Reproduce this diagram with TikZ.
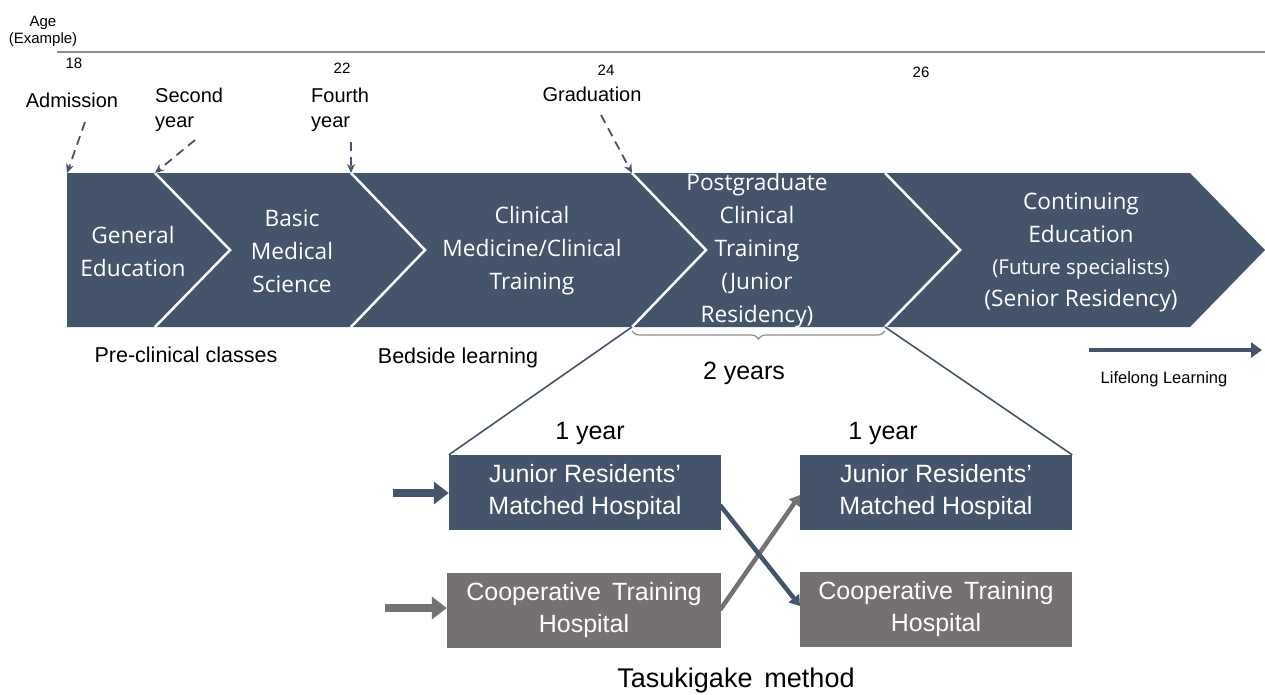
\documentclass[tikz,border=0pt]{standalone}
\usepackage{fontspec}
\setmainfont{Liberation Sans}
\newfontfamily\chev{Open Sans}
\usetikzlibrary{arrows.meta,decorations.pathreplacing}
\definecolor{navy}{HTML}{44546A}
\definecolor{stone}{HTML}{767171}
\definecolor{rule}{HTML}{8C8C8C}
\tikzset{
  seg/.style={fill=navy, draw=none},
  sep/.style={draw=white, line width=2.5pt},
  chevtext/.style={text=white, font=\chev\fontsize{22.7}{33}\selectfont, align=center},
  small/.style={font=\fontsize{15}{17}\selectfont, align=center},
  lbl/.style={font=\fontsize{20}{25}\selectfont, align=left, inner sep=0pt},
  biglbl/.style={font=\fontsize{21.5}{26}\selectfont, inner sep=0pt},
  dasharrow/.style={navy, dashed, dash pattern=on 9pt off 6pt, line width=1.8pt, -{Stealth[length=9pt,width=8pt]}},
  hbox/.style={minimum width=272pt, minimum height=75pt, inner sep=0pt, text=white, align=center, font=\fontsize{25}{32}\selectfont},
  fatarrow/.style={line width=8pt, -{Triangle[length=15pt,width=22pt]}},
  crossarrow/.style={line width=4.5pt, -{Triangle[length=10pt,width=13pt]}},
  zoomline/.style={navy, line width=1.6pt},
  yearlbl/.style={font=\fontsize{25}{28}\selectfont},
}
\begin{document}
\begin{tikzpicture}[x=1pt,y=-1pt]
\useasboundingbox (0,0) rectangle (1265,694);
% age axis
\node[small, font=\fontsize{15}{17}\selectfont] (age) at (43,31) {Age\\(Example)};
\coordinate (axL) at (57,52);
\coordinate (axR) at (1265,52);
\draw[rule, line width=2pt] (axL) -- (axR);
\node[small] (a18) at (74,63) {18};
\node[small] (a22) at (342,68) {22};
\node[small] (a24) at (606,70) {24};
\node[small] (a26) at (921,72) {26};
% chevron corner coordinates
\coordinate (t1) at (67,173);  \coordinate (b1) at (67,327);
\coordinate (t2) at (155,173); \coordinate (b2) at (155,327); \coordinate (p2) at (230,250);
\coordinate (t3) at (351,173); \coordinate (b3) at (351,327); \coordinate (p3) at (425,250);
\coordinate (t4) at (632,173); \coordinate (b4) at (632,327); \coordinate (p4) at (706,250);
\coordinate (t5) at (885,173); \coordinate (b5) at (885,327); \coordinate (p5) at (960,250);
\coordinate (t6) at (1190,173); \coordinate (b6) at (1190,327); \coordinate (p6) at (1265,250);
\fill[seg] (t1) -- (t2) -- (p2) -- (b2) -- (b1) -- cycle;
\fill[seg] (t2) -- (t3) -- (p3) -- (b3) -- (b2) -- (p2) -- cycle;
\fill[seg] (t3) -- (t4) -- (p4) -- (b4) -- (b3) -- (p3) -- cycle;
\fill[seg] (t4) -- (t5) -- (p5) -- (b5) -- (b4) -- (p4) -- cycle;
\fill[seg] (t5) -- (t6) -- (p6) -- (b6) -- (b5) -- (p5) -- cycle;
\draw[sep] (t2) -- (p2) -- (b2);
\draw[sep] (t3) -- (p3) -- (b3);
\draw[sep] (t4) -- (p4) -- (b4);
\draw[sep] (t5) -- (p5) -- (b5);
% chevron texts
\node[chevtext] (ge) at (133,251) {General\\Education};
\node[chevtext] (bms) at (292,251) {Basic\\Medical\\Science};
\node[chevtext] (cm) at (532,251) {Clinical\\Medicine/Clinical\\Training};
\node[chevtext] (pg) at (757,251) {Postgraduate\\Clinical\\Training\\(Junior\\Residency)};
\node[chevtext] (ce) at (1081,252) {Continuing\\Education\\[-1pt]{\fontsize{20.5}{24}\selectfont (Future specialists)}\\[-1pt](Senior Residency)};
% milestone labels
\node[lbl] (adm) at (72,100) {Admission};
\node[lbl, anchor=west] (sec) at (155,110) {Second\\year};
\node[lbl, anchor=west] (fou) at (311,110) {Fourth\\year};
\node[lbl] (grad) at (592,94) {Graduation};
\coordinate (admS) at (85,122);
\coordinate (secS) at (195,140);
\coordinate (fouS) at (351,142);
\coordinate (gradS) at (601,115);
\draw[dasharrow] (admS) -- (t1);
\draw[dasharrow] (secS) -- (t2);
\draw[dasharrow] (fouS) -- (t3);
\draw[dasharrow] (gradS) -- (t4);
% below band
\node[biglbl] (pre) at (186,355) {Pre-clinical classes};
\node[biglbl] (bed) at (458,358) {Bedside learning};
\coordinate (brL) at (632,331);
\coordinate (brR) at (885,331);
\draw[rule, line width=1.2pt, decorate, decoration={brace, amplitude=8pt, mirror}] (brL) -- (brR);
\node[yearlbl] (two) at (744,373) {2 years};
\coordinate (llL) at (1089,350);
\coordinate (llR) at (1262,350);
\draw[navy, line width=4.5pt, -{Triangle[length=11pt,width=15pt]}] (llL) -- (llR);
\node[font=\fontsize{16.5}{19}\selectfont] (ll) at (1164,379) {Lifelong Learning};
% hospital boxes
\node[hbox, fill=navy] (ljr) at (585,492.5) {Junior Residents’\\Matched Hospital};
\node[hbox, fill=stone, minimum width=274pt] (lct) at (584,610.5) {Cooperative\, Training\\Hospital};
\node[hbox, fill=navy] (rjr) at (936,492.5) {Junior Residents’\\Matched Hospital};
\node[hbox, fill=stone] (rct) at (936,609.5) {Cooperative\, Training\\Hospital};
\node[yearlbl] (y1l) at (590,433) {1 year};
\node[yearlbl] (y1r) at (883,433) {1 year};
\draw[zoomline] (b4) -- (ljr.north west);
\draw[zoomline] (b5) -- (rjr.north east);
% input arrows
\coordinate (inJ) at (393,493);
\coordinate (inC) at (385,608);
\draw[fatarrow, navy] (inJ) -- (ljr.west |- inJ);
\draw[fatarrow, stone] (inC) -- (lct.west |- inC);
% cross arrows
\coordinate (xJs) at (720,505);
\coordinate (xJe) at (800,606);
\coordinate (xCs) at (720,610);
\coordinate (xCe) at (800,495);
\draw[crossarrow, stone] (xCs) -- (xCe);
\draw[crossarrow, navy] (xJs) -- (xJe);
\node[font=\fontsize{27}{30}\selectfont] (tm) at (736,681) {Tasukigake\, method};
\end{tikzpicture}
\end{document}
